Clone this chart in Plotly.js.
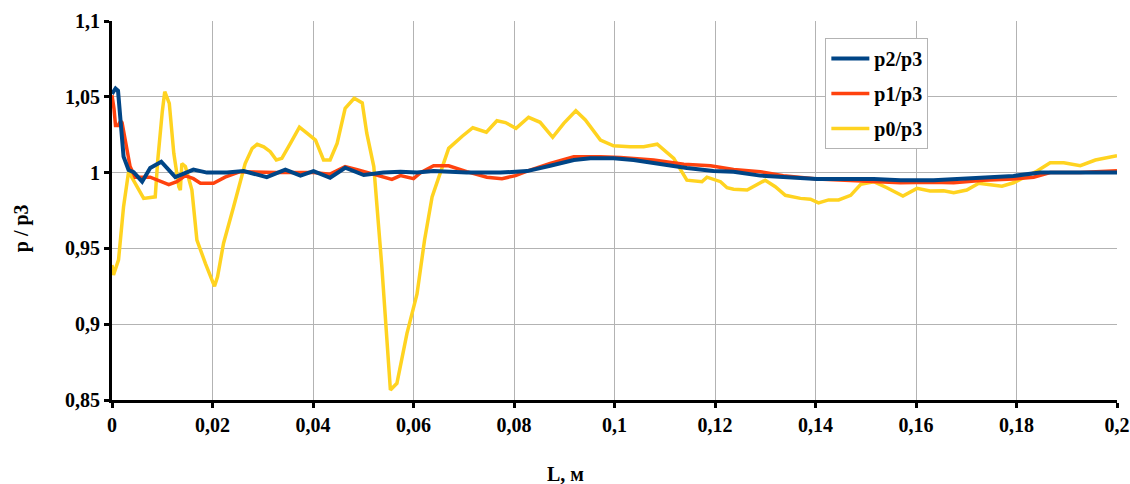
<!DOCTYPE html>
<html>
<head>
<meta charset="utf-8">
<script src="https://cdn.plot.ly/plotly-3.0.1.min.js"></script>
<style>html,body{margin:0;padding:0;background:#fff;}#chart{width:1130px;height:484px;}</style>
</head>
<body>
<div id="chart"></div>
<script>
// p2/p3 series
const L_p2 = [0, 0.0007, 0.0012, 0.0019, 0.0023, 0.0033, 0.0043, 0.006, 0.0076, 0.0098, 0.0126, 0.0162, 0.0189, 0.0229, 0.0262, 0.0308, 0.0345, 0.0375, 0.0401, 0.0434, 0.0464, 0.0501, 0.054, 0.0574, 0.0607, 0.064, 0.0706, 0.0773, 0.0826, 0.0872, 0.0919, 0.0952, 0.0998, 0.1038, 0.1091, 0.1144, 0.1197, 0.1237, 0.129, 0.1337, 0.1403, 0.1516, 0.1569, 0.1635, 0.1701, 0.1748, 0.1794, 0.1847, 0.1934, 0.2];
const p2 = [1.052, 1.0555, 1.054, 1.024, 1.0105, 1.0017, 1.0003, 0.994, 1.003, 1.0072, 0.997, 1.002, 1.0, 1.0, 1.001, 0.997, 1.002, 0.998, 1.001, 0.9966, 1.0032, 0.9984, 1.0, 1.0006, 1.0, 1.001, 1.0, 1.0, 1.001, 1.0045, 1.0083, 1.0094, 1.0094, 1.0083, 1.0055, 1.003, 1.001, 1.0006, 0.998, 0.997, 0.9958, 0.9958, 0.995, 0.995, 0.9962, 0.997, 0.9978, 1.0, 1.0, 1.0];

// p1/p3 series
const L_p1 = [0, 0.0004, 0.0007, 0.0012, 0.0017, 0.002, 0.0036, 0.0046, 0.0076, 0.0096, 0.0113, 0.0129, 0.0146, 0.0162, 0.0176, 0.0202, 0.0225, 0.0255, 0.0295, 0.0328, 0.0361, 0.0401, 0.0434, 0.0464, 0.0488, 0.054, 0.0557, 0.0574, 0.06, 0.0614, 0.064, 0.067, 0.0706, 0.0746, 0.0776, 0.0803, 0.0826, 0.0872, 0.0919, 0.0972, 0.1012, 0.1078, 0.1138, 0.1191, 0.1237, 0.129, 0.1336, 0.1403, 0.147, 0.1569, 0.1628, 0.1675, 0.1735, 0.1794, 0.1834, 0.1867, 0.1927, 0.2];
const p1 = [1.051, 1.042, 1.031, 1.031, 1.034, 1.033, 1.004, 0.997, 0.997, 0.994, 0.992, 0.994, 0.998, 0.996, 0.993, 0.993, 0.997, 1.0006, 1.0, 1.0, 1.0, 1.0, 0.999, 1.004, 1.002, 0.997, 0.9955, 0.998, 0.996, 1.0, 1.0045, 1.0045, 1.0006, 0.997, 0.996, 0.998, 1.001, 1.006, 1.0105, 1.0105, 1.010, 1.0083, 1.0055, 1.0045, 1.002, 1.0006, 0.998, 0.9958, 0.995, 0.9933, 0.9936, 0.9933, 0.995, 0.9958, 0.997, 1.0, 1.0, 1.0013];

// p0/p3 series
const L_p0 = [0, 0.0003, 0.0013, 0.0023, 0.0033, 0.0063, 0.0086, 0.0091, 0.01, 0.0105, 0.0114, 0.0123, 0.0133, 0.0136, 0.0139, 0.0146, 0.0159, 0.0169, 0.0186, 0.0204, 0.021, 0.0222, 0.0242, 0.0265, 0.0279, 0.0289, 0.0302, 0.0315, 0.0327, 0.0338, 0.0355, 0.0373, 0.0388, 0.0405, 0.0421, 0.0434, 0.0448, 0.0464, 0.0482, 0.0498, 0.0507, 0.0521, 0.0537, 0.0554, 0.0567, 0.0587, 0.0607, 0.0622, 0.0637, 0.0653, 0.067, 0.0697, 0.0718, 0.0745, 0.0766, 0.0783, 0.0804, 0.0829, 0.0852, 0.0877, 0.0899, 0.0923, 0.0942, 0.0972, 0.0998, 0.1031, 0.1058, 0.1085, 0.1118, 0.1144, 0.1174, 0.1184, 0.1211, 0.1224, 0.1237, 0.1264, 0.13, 0.132, 0.134, 0.137, 0.139, 0.1406, 0.1426, 0.1446, 0.147, 0.149, 0.1516, 0.1542, 0.1574, 0.1602, 0.1628, 0.1655, 0.1675, 0.1701, 0.1725, 0.1748, 0.1771, 0.1794, 0.1821, 0.1841, 0.1867, 0.1894, 0.1927, 0.1957, 0.2];
const p0 = [0.939, 0.9325, 0.9424, 0.9775, 1.0006, 0.983, 0.984, 1.008, 1.040, 1.0534, 1.0457, 1.0127, 0.9907, 0.9885, 1.006, 1.004, 0.9885, 0.9555, 0.940, 0.925, 0.9313, 0.9534, 0.9775, 1.006, 1.016, 1.0187, 1.017, 1.0138, 1.0083, 1.0094, 1.0193, 1.030, 1.026, 1.0215, 1.0083, 1.0083, 1.0193, 1.0424, 1.049, 1.046, 1.026, 1.004, 0.938, 0.8566, 0.861, 0.894, 0.920, 0.9555, 0.984, 1.0, 1.016, 1.024, 1.0296, 1.0266, 1.0342, 1.033, 1.0292, 1.0365, 1.0332, 1.0233, 1.0325, 1.0408, 1.0347, 1.0215, 1.0177, 1.017, 1.017, 1.0187, 1.0094, 0.995, 0.994, 0.997, 0.994, 0.990, 0.989, 0.9885, 0.995, 0.9907, 0.985, 0.983, 0.9824, 0.980, 0.982, 0.982, 0.985, 0.9923, 0.994, 0.990, 0.9846, 0.9896, 0.9879, 0.988, 0.9867, 0.9885, 0.993, 0.992, 0.991, 0.9933, 0.9978, 1.001, 1.0065, 1.0065, 1.0046, 1.0083, 1.0111];

const seriesNames = ['p2/p3', 'p1/p3', 'p0/p3'];
const xTickVals = [0, 0.02, 0.04, 0.06, 0.08, 0.1, 0.12, 0.14, 0.16, 0.18, 0.2];
const xTickText = ['0', '0,02', '0,04', '0,06', '0,08', '0,1', '0,12', '0,14', '0,16', '0,18', '0,2'];
const yTickVals = [0.85, 0.9, 0.95, 1.0, 1.05, 1.1];
const yTickText = ['0,85', '0,9', '0,95', '1', '1,05', '1,1'];
const xTitle = 'L, м';
const yTitle = 'p / p3';

const FONT = '"Liberation Serif", "Times New Roman", serif';
const bold = (s) => ({family: FONT, size: s, color: '#000', weight: 'bold'});

const traces = [
  {x: L_p0, y: p0, name: seriesNames[2], legendrank: 3, line: {color: '#ffd320', width: 3.5}},
  {x: L_p1, y: p1, name: seriesNames[1], legendrank: 2, line: {color: '#ff420e', width: 3.5}},
  {x: L_p2, y: p2, name: seriesNames[0], legendrank: 1, line: {color: '#004586', width: 4}}
].map(t => Object.assign({type: 'scatter', mode: 'lines', hoverinfo: 'skip', legendgroup: t.name}, t));

const layout = {
  width: 1130, height: 484,
  margin: {l: 112, r: 13, t: 21, b: 84},
  paper_bgcolor: '#ffffff', plot_bgcolor: '#ffffff',
  font: bold(20),
  showlegend: true,
  legend: {
    x: 0.7098, y: 0.955, xanchor: 'left', yanchor: 'top',
    bordercolor: '#b3b3b3', borderwidth: 1, bgcolor: '#ffffff',
    traceorder: 'grouped', tracegroupgap: 6, itemwidth: 38,
    font: bold(20)
  },
  xaxis: {
    range: [0, 0.2], tickvals: xTickVals, ticktext: xTickText,
    showgrid: true, gridcolor: '#b3b3b3', gridwidth: 1,
    showline: true, linecolor: '#000', linewidth: 3,
    ticks: 'outside', ticklen: 5, tickwidth: 3, tickcolor: '#000',
    tickfont: bold(20),
    zeroline: false, fixedrange: true
  },
  yaxis: {
    range: [0.85, 1.1], tickvals: yTickVals, ticktext: yTickText,
    showgrid: true, gridcolor: '#b3b3b3', gridwidth: 1,
    showline: true, linecolor: '#000', linewidth: 3,
    ticks: 'outside', ticklen: 5, tickwidth: 3, tickcolor: '#000',
    tickfont: bold(20),
    zeroline: false, fixedrange: true
  },
  annotations: [
    {text: xTitle, xref: 'paper', yref: 'paper', x: 0.451, y: -0.195, xanchor: 'center', yanchor: 'middle', showarrow: false,
     font: bold(20)},
    {text: yTitle, xref: 'paper', yref: 'paper', x: -0.0893, y: 0.454, xanchor: 'center', yanchor: 'middle', showarrow: false, textangle: -90,
     font: bold(20)}
  ]
};

Plotly.newPlot('chart', traces, layout, {displayModeBar: false, staticPlot: true});
</script>
</body>
</html>
